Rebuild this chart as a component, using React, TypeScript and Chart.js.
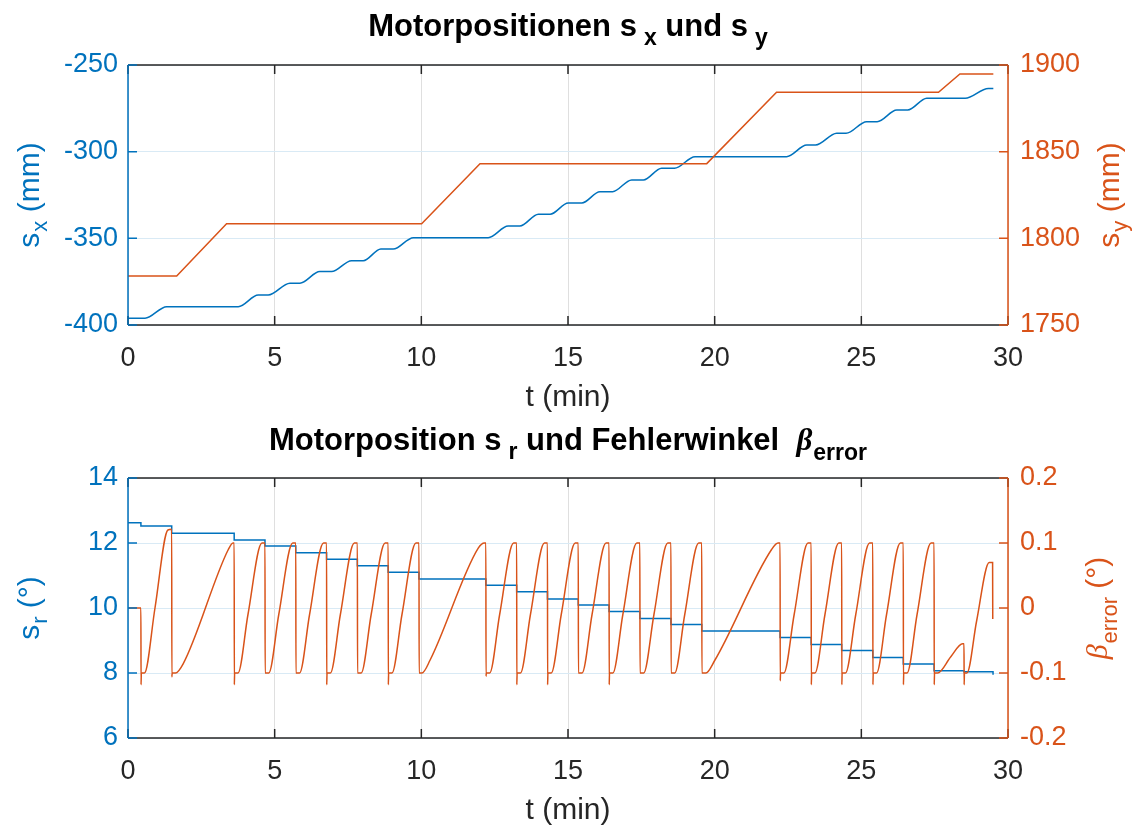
import React, { useEffect, useRef } from "react";
import { Chart, registerables } from "chart.js";

Chart.register(...registerables);

// ---------- colours / fonts ----------
const BLUE = "#0072BD";
const ORANGE = "#D95319";
const DARK = "#262626";
const GRID_X = "#dfdfdf";
const GRID_Y = "#d9eaf5";
const SANS = "'Liberation Sans', Arial, Helvetica, sans-serif";
const SERIF = "'Liberation Serif', 'DejaVu Serif', serif";

// ---------- shared axis ----------
const xTicks = [0, 5, 10, 15, 20, 25, 30];

// ---------- top panel: s_x (left) and s_y (right) ----------
const sxTicks = [-400, -350, -300, -250];
const syTicks = [1750, 1800, 1850, 1900];

const sxTime = [0, 0.58, 1.32, 3.76, 4.44, 4.78, 5.52, 5.86, 6.54, 6.94, 7.62, 8.02, 8.62, 9.04, 9.73, 12.28, 12.96, 13.36, 13.99, 14.39, 15.01, 15.47, 16.09, 16.52, 17.17, 17.57, 18.19, 18.63, 19.33, 22.45, 23.14, 23.44, 24.16, 24.48, 25.18, 25.54, 26.21, 26.58, 27.23, 28.54, 29.33, 29.5];
const sxValue = [-396.1, -396.1, -389.4, -389.4, -382.7, -382.7, -375.9, -375.9, -369.2, -369.2, -362.9, -362.9, -356.2, -356.2, -349.6, -349.6, -342.9, -342.9, -336.1, -336.1, -329.6, -329.6, -323.1, -323.1, -316.3, -316.3, -309.6, -309.6, -302.9, -302.9, -296.2, -296.2, -289.4, -289.4, -282.7, -282.7, -276.0, -276.0, -269.2, -269.2, -263.5, -263.5];

const syTime = [0, 1.66, 3.36, 10.01, 12.0, 19.73, 22.11, 27.63, 28.36, 29.5];
const syValue = [1778.3, 1778.3, 1808.4, 1808.4, 1843.1, 1843.1, 1884.3, 1884.3, 1894.8, 1894.8];

// ---------- bottom panel: s_r (left) and beta_error (right) ----------
const srTicks = [6, 8, 10, 12, 14];
const betaTicks = [-0.2, -0.1, 0, 0.1, 0.2];

const srTime = [0, 0.44, 1.49, 3.62, 4.67, 5.72, 6.77, 7.82, 8.87, 9.92, 12.2, 13.25, 14.3, 15.35, 16.4, 17.45, 18.51, 19.56, 22.23, 23.29, 24.33, 25.39, 26.43, 27.48, 28.5, 29.47, 29.49];
const srValue = [12.62, 12.52, 12.3, 12.09, 11.91, 11.7, 11.5, 11.3, 11.1, 10.89, 10.7, 10.5, 10.28, 10.09, 9.89, 9.68, 9.49, 9.29, 9.09, 8.88, 8.69, 8.48, 8.28, 8.07, 8.04, 8.04, 7.95];

const betaTime = [
  0, 0.44,
  0.445, 0.455, 0.56, 0.92, 1.36, 1.49,
  1.495, 1.505, 1.62, 1.88, 3.42, 3.58, 3.62,
  3.625, 3.635, 3.75, 4.09, 4.565, 4.67,
  4.675, 4.8, 5.14, 5.615, 5.72,
  5.725, 5.85, 6.19, 6.665, 6.77,
  6.775, 6.785, 6.9, 7.24, 7.715, 7.82,
  7.825, 7.95, 8.29, 8.765, 8.87,
  8.875, 8.885, 9.0, 9.34, 9.815, 9.92,
  9.925, 10.02, 10.3, 11.94, 12.15, 12.2,
  12.205, 12.215, 12.33, 12.67, 13.145, 13.25,
  13.255, 13.265, 13.38, 13.72, 14.195, 14.3,
  14.305, 14.315, 14.43, 14.77, 15.245, 15.35,
  15.355, 15.48, 15.82, 16.295, 16.4,
  16.405, 16.415, 16.53, 16.87, 17.345, 17.45,
  17.455, 17.58, 17.93, 18.4, 18.51,
  18.515, 18.64, 18.98, 19.455, 19.56,
  19.565, 19.7, 20.01, 21.94, 22.16, 22.23,
  22.235, 22.245, 22.36, 22.71, 23.18, 23.29,
  23.295, 23.305, 23.42, 23.76, 24.23, 24.33,
  24.335, 24.345, 24.46, 24.81, 25.28, 25.39,
  25.395, 25.405, 25.52, 25.86, 26.33, 26.43,
  26.435, 26.445, 26.56, 26.9, 27.375, 27.48,
  27.485, 27.495, 27.6, 28.05, 28.45, 28.5,
  28.505, 28.515, 28.6, 28.93, 29.36, 29.475, 29.48,
];
const betaValue = [
  0, 0,
  -0.118, -0.1, -0.1, 0.0, 0.12, 0.121,
  -0.106, -0.1, -0.1, -0.086, 0.09, 0.1, 0.1,
  -0.118, -0.1, -0.1, -0.01, 0.1, 0.1,
  -0.1, -0.1, -0.01, 0.1, 0.1,
  -0.1, -0.1, -0.01, 0.1, 0.1,
  -0.118, -0.1, -0.1, -0.01, 0.1, 0.1,
  -0.1, -0.1, -0.01, 0.1, 0.1,
  -0.118, -0.1, -0.1, -0.01, 0.1, 0.1,
  -0.1, -0.1, -0.08, 0.092, 0.1, 0.1,
  -0.105, -0.1, -0.1, -0.01, 0.1, 0.1,
  -0.118, -0.1, -0.1, -0.01, 0.1, 0.1,
  -0.118, -0.1, -0.1, -0.01, 0.1, 0.1,
  -0.1, -0.1, -0.01, 0.1, 0.1,
  -0.118, -0.1, -0.1, -0.01, 0.1, 0.1,
  -0.1, -0.1, -0.01, 0.1, 0.1,
  -0.1, -0.1, -0.01, 0.1, 0.1,
  -0.1, -0.1, -0.08, 0.09, 0.1, 0.1,
  -0.112, -0.1, -0.1, -0.01, 0.1, 0.1,
  -0.118, -0.1, -0.1, -0.01, 0.1, 0.1,
  -0.118, -0.1, -0.1, -0.01, 0.1, 0.1,
  -0.118, -0.1, -0.1, -0.01, 0.1, 0.1,
  -0.118, -0.1, -0.1, -0.01, 0.1, 0.1,
  -0.118, -0.1, -0.1, -0.075, -0.055, -0.055,
  -0.118, -0.1, -0.1, -0.02, 0.07, 0.07, -0.017,
];

// ---------- rich text helper (subscripts, rotation) ----------
type Seg = { text: string; size: number; bold?: boolean; italic?: boolean; serif?: boolean; dy?: number; dx?: number };

function drawRich(ctx: CanvasRenderingContext2D, segs: Seg[], x: number, y: number, color: string, rotate: boolean) {
  ctx.save();
  ctx.translate(x, y);
  if (rotate) ctx.rotate(-Math.PI / 2);
  ctx.fillStyle = color;
  ctx.textBaseline = "alphabetic";
  ctx.textAlign = "left";
  const fonts = segs.map((s) => `${s.italic ? "italic " : ""}${s.bold ? "bold " : ""}${s.size}px ${s.serif ? SERIF : SANS}`);
  let total = 0;
  const widths = segs.map((s, i) => {
    ctx.font = fonts[i];
    const w = ctx.measureText(s.text).width + (s.dx || 0);
    total += w;
    return w;
  });
  let cx = -total / 2;
  segs.forEach((s, i) => {
    ctx.font = fonts[i];
    ctx.fillText(s.text, cx + (s.dx || 0), s.dy || 0);
    cx += widths[i];
  });
  ctx.restore();
}

type PanelSpec = {
  height: number;
  areaTop: number;
  areaBottom: number;
  leftMin: number;
  leftMax: number;
  leftTicks: number[];
  rightMin: number;
  rightMax: number;
  rightTicks: number[];
  rightFmt: (v: number) => string;
  leftData: { x: number; y: number }[];
  rightData: { x: number; y: number }[];
  leftStepped: boolean;
  rightMono: boolean;
  title: Seg[];
  titleY: number;
  leftLabel: Seg[];
  rightLabel: Seg[];
  rightLabelX: number;
};

function makeConfig(p: PanelSpec): any {
  const framePlugin = {
    id: "matlabFrame",
    afterDraw(chart: any) {
      const ctx: CanvasRenderingContext2D = chart.ctx;
      const a = chart.chartArea;
      const xs = chart.scales.x;
      const yl = chart.scales.y;
      const yr = chart.scales.y1;
      const TL = 9;
      ctx.save();
      ctx.lineWidth = 1.5;
      ctx.strokeStyle = DARK;
      ctx.beginPath();
      for (const v of xTicks) {
        const px = xs.getPixelForValue(v);
        ctx.moveTo(px, a.bottom);
        ctx.lineTo(px, a.bottom - TL);
        ctx.moveTo(px, a.top);
        ctx.lineTo(px, a.top + TL);
      }
      ctx.moveTo(a.left, a.top);
      ctx.lineTo(a.right, a.top);
      ctx.moveTo(a.left, a.bottom);
      ctx.lineTo(a.right, a.bottom);
      ctx.stroke();

      ctx.strokeStyle = BLUE;
      ctx.beginPath();
      ctx.moveTo(a.left, a.top);
      ctx.lineTo(a.left, a.bottom);
      for (const v of p.leftTicks) {
        const py = yl.getPixelForValue(v);
        ctx.moveTo(a.left, py);
        ctx.lineTo(a.left + TL, py);
      }
      ctx.stroke();

      ctx.strokeStyle = ORANGE;
      ctx.beginPath();
      ctx.moveTo(a.right, a.top);
      ctx.lineTo(a.right, a.bottom);
      for (const v of p.rightTicks) {
        const py = yr.getPixelForValue(v);
        ctx.moveTo(a.right, py);
        ctx.lineTo(a.right - TL, py);
      }
      ctx.stroke();
      ctx.restore();

      const cx = (a.left + a.right) / 2;
      const cy = (a.top + a.bottom) / 2;
      drawRich(ctx, p.title, cx, p.titleY, "#000000", false);
      drawRich(ctx, [{ text: "t (min)", size: 30 }], cx, a.bottom + 81, DARK, false);
      drawRich(ctx, p.leftLabel, 39, cy, BLUE, true);
      drawRich(ctx, p.rightLabel, p.rightLabelX, cy, ORANGE, true);
    },
  };

  const tickFont = { family: SANS, size: 27 };
  return {
    type: "line",
    data: {
      datasets: [
        {
          data: p.rightData,
          yAxisID: "y1",
          borderColor: ORANGE,
          borderWidth: 1.5,
          pointRadius: 0,
          fill: false,
          tension: 0,
          cubicInterpolationMode: p.rightMono ? "monotone" : "default",
        },
        {
          data: p.leftData,
          yAxisID: "y",
          borderColor: BLUE,
          borderWidth: 1.5,
          pointRadius: 0,
          fill: false,
          tension: 0,
          stepped: p.leftStepped ? "before" : false,
          cubicInterpolationMode: p.leftStepped ? "default" : "monotone",
        },
      ],
    },
    options: {
      animation: false,
      responsive: false,
      maintainAspectRatio: false,
      devicePixelRatio: 1,
      events: [],
      layout: { padding: { top: p.areaTop, left: 0, right: 0, bottom: 0 } },
      plugins: { legend: { display: false }, tooltip: { enabled: false }, title: { display: false } },
      scales: {
        x: {
          type: "linear",
          min: 0,
          max: 30,
          afterBuildTicks: (ax: any) => {
            ax.ticks = xTicks.map((v) => ({ value: v }));
          },
          afterFit: (ax: any) => {
            ax.height = p.height - p.areaBottom;
          },
          ticks: { color: DARK, font: tickFont, padding: 17, maxRotation: 0, autoSkip: false, callback: (v: any) => String(v) },
          grid: { color: GRID_X, lineWidth: 1, drawTicks: false },
          border: { display: false },
        },
        y: {
          type: "linear",
          position: "left",
          min: p.leftMin,
          max: p.leftMax,
          afterBuildTicks: (ax: any) => {
            ax.ticks = p.leftTicks.map((v) => ({ value: v }));
          },
          afterFit: (ax: any) => {
            ax.width = 128;
          },
          ticks: { color: BLUE, font: tickFont, padding: 10, callback: (v: any) => String(v) },
          grid: { color: GRID_Y, lineWidth: 1, drawTicks: false },
          border: { display: false },
        },
        y1: {
          type: "linear",
          position: "right",
          min: p.rightMin,
          max: p.rightMax,
          afterBuildTicks: (ax: any) => {
            ax.ticks = p.rightTicks.map((v) => ({ value: v }));
          },
          afterFit: (ax: any) => {
            ax.width = 140;
          },
          ticks: { color: ORANGE, font: tickFont, padding: 12, callback: (v: any) => p.rightFmt(Number(v)) },
          grid: { display: false, drawTicks: false },
          border: { display: false },
        },
      },
    },
    plugins: [framePlugin],
  };
}

const zip = (xs: number[], ys: number[]) => xs.map((x, i) => ({ x, y: ys[i] }));

export default function App() {
  const topRef = useRef<HTMLCanvasElement | null>(null);
  const botRef = useRef<HTMLCanvasElement | null>(null);

  useEffect(() => {
    const topSpec: PanelSpec = {
      height: 415,
      areaTop: 65,
      areaBottom: 325,
      leftMin: -400,
      leftMax: -250,
      leftTicks: sxTicks,
      rightMin: 1750,
      rightMax: 1900,
      rightTicks: syTicks,
      rightFmt: (v) => String(v),
      leftData: zip(sxTime, sxValue),
      rightData: zip(syTime, syValue),
      leftStepped: false,
      rightMono: false,
      title: [
        { text: "Motorpositionen s", size: 31, bold: true },
        { text: "x", size: 23, bold: true, dy: 9, dx: 7 },
        { text: " und s", size: 31, bold: true },
        { text: "y", size: 23, bold: true, dy: 9, dx: 7 },
      ],
      titleY: 36,
      leftLabel: [
        { text: "s", size: 30 },
        { text: "x", size: 22, dy: 8, dx: 1 },
        { text: " (mm)", size: 30 },
      ],
      rightLabel: [
        { text: "s", size: 30 },
        { text: "y", size: 22, dy: 8, dx: 1 },
        { text: " (mm)", size: 30 },
      ],
      rightLabelX: 1119,
    };
    const botSpec: PanelSpec = {
      height: 416,
      areaTop: 63,
      areaBottom: 323,
      leftMin: 6,
      leftMax: 14,
      leftTicks: srTicks,
      rightMin: -0.2,
      rightMax: 0.2,
      rightTicks: betaTicks,
      rightFmt: (v) => String(Math.round(v * 10) / 10),
      leftData: zip(srTime, srValue),
      rightData: zip(betaTime, betaValue),
      leftStepped: true,
      rightMono: true,
      title: [
        { text: "Motorposition s", size: 31, bold: true },
        { text: "r", size: 23, bold: true, dy: 9, dx: 7 },
        { text: " und Fehlerwinkel  ", size: 31, bold: true },
        { text: "\u03B2", size: 31, bold: true, italic: true, serif: true },
        { text: "error", size: 23, bold: true, dy: 10, dx: 1 },
      ],
      titleY: 35,
      leftLabel: [
        { text: "s", size: 30 },
        { text: "r", size: 22, dy: 8, dx: 1 },
        { text: " (\u00B0)", size: 30 },
      ],
      rightLabel: [
        { text: "\u03B2", size: 30, italic: true, serif: true },
        { text: "error", size: 22, dy: 10, dx: 1 },
        { text: " (\u00B0)", size: 30 },
      ],
      rightLabelX: 1107,
    };
    const c1 = new Chart(topRef.current as HTMLCanvasElement, makeConfig(topSpec));
    const c2 = new Chart(botRef.current as HTMLCanvasElement, makeConfig(botSpec));
    return () => {
      c1.destroy();
      c2.destroy();
    };
  }, []);

  return (
    <div style={{ position: "absolute", left: 0, top: 0, width: 1148, height: 831, background: "#ffffff", overflow: "hidden" }}>
      <canvas ref={topRef} width={1148} height={415} style={{ position: "absolute", left: 0, top: 0, width: 1148, height: 415 }} />
      <canvas ref={botRef} width={1148} height={416} style={{ position: "absolute", left: 0, top: 415, width: 1148, height: 416 }} />
    </div>
  );
}
